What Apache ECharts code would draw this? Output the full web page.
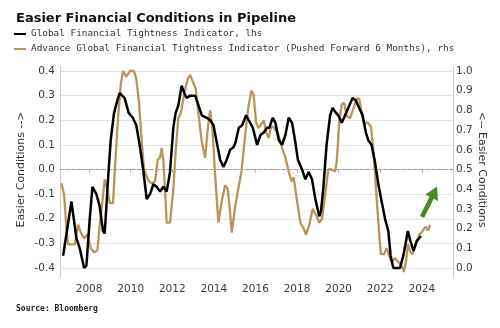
<!DOCTYPE html>
<html>
<head>
<meta charset="utf-8">
<script src="https://cdn.jsdelivr.net/npm/echarts@6/dist/echarts.min.js"></script>
<style>
  html, body { margin: 0; padding: 0; background: #ffffff; }
  #chart { width: 500px; height: 328px; }
</style>
</head>
<body>
<div id="chart"></div>
<script>
// Global Financial Tightness Indicator (left axis), dates as decimal years
const gftYears = [
  2006.75, 2007.15, 2007.39, 2007.55, 2007.76, 2007.87, 2008.03, 2008.16, 2008.35, 2008.51,
  2008.67, 2008.75, 2008.91, 2009.04, 2009.20, 2009.39, 2009.47, 2009.71, 2009.90, 2010.10,
  2010.27, 2010.43, 2010.60, 2010.77, 2010.93, 2011.09, 2011.25, 2011.41, 2011.57, 2011.73,
  2011.89, 2012.05, 2012.16, 2012.29, 2012.45, 2012.58, 2012.69, 2012.86, 2013.10, 2013.26,
  2013.42, 2013.66, 2013.82, 2013.98, 2014.14, 2014.30, 2014.46, 2014.62, 2014.78, 2014.94,
  2015.04, 2015.20, 2015.36, 2015.55, 2015.68, 2015.87, 2016.08, 2016.24, 2016.40, 2016.56,
  2016.67, 2016.83, 2016.96, 2017.12, 2017.28, 2017.44, 2017.60, 2017.76, 2017.92, 2018.04,
  2018.24, 2018.40, 2018.56, 2018.72, 2018.88, 2019.07, 2019.15, 2019.26, 2019.42, 2019.59,
  2019.71, 2019.87, 2019.98, 2020.15, 2020.26, 2020.46, 2020.67, 2020.83, 2020.99, 2021.15,
  2021.31, 2021.42, 2021.58, 2021.75, 2021.91, 2022.07, 2022.23, 2022.39, 2022.50, 2022.63,
  2022.79, 2022.95, 2023.11, 2023.20, 2023.33, 2023.45, 2023.60, 2023.76, 2023.96
];
const gftValues = [
  -0.35, -0.13, -0.28, -0.32, -0.40, -0.39, -0.20, -0.07, -0.10, -0.15,
  -0.25, -0.26, -0.04, 0.12, 0.23, 0.29, 0.31, 0.29, 0.23, 0.21,
  0.18, 0.10, 0.00, -0.12, -0.10, -0.06, -0.07, -0.09, -0.07, -0.09,
  -0.01, 0.17, 0.23, 0.26, 0.34, 0.31, 0.29, 0.30, 0.30, 0.26,
  0.22, 0.21, 0.20, 0.18, 0.11, 0.04, 0.01, 0.04, 0.08, 0.09,
  0.11, 0.17, 0.18, 0.22, 0.20, 0.17, 0.10, 0.14, 0.15, 0.17,
  0.17, 0.21, 0.19, 0.12, 0.10, 0.14, 0.21, 0.19, 0.11, 0.04,
  0.00, -0.04, -0.01, -0.04, -0.12, -0.19, -0.17, -0.08, 0.10, 0.22,
  0.25, 0.23, 0.22, 0.19, 0.21, 0.25, 0.29, 0.28, 0.25, 0.22,
  0.15, 0.12, 0.10, 0.03, -0.06, -0.13, -0.20, -0.25, -0.35, -0.40,
  -0.40, -0.40, -0.35, -0.31, -0.25, -0.29, -0.33, -0.29, -0.27
];

// Advance indicator, pushed forward 6 months (right axis)
const advYears = [
  2006.67, 2006.80, 2006.91, 2006.99, 2007.15, 2007.31, 2007.47, 2007.60, 2007.76, 2007.92,
  2008.08, 2008.24, 2008.40, 2008.51, 2008.63, 2008.75, 2008.88, 2008.99, 2009.15, 2009.26,
  2009.39, 2009.52, 2009.63, 2009.79, 2009.96, 2010.16, 2010.27, 2010.40, 2010.51, 2010.64,
  2010.75, 2010.87, 2011.01, 2011.17, 2011.30, 2011.41, 2011.49, 2011.57, 2011.65, 2011.73,
  2011.89, 2012.05, 2012.16, 2012.29, 2012.42, 2012.58, 2012.74, 2012.86, 2013.01, 2013.13,
  2013.26, 2013.42, 2013.58, 2013.71, 2013.82, 2013.93, 2014.06, 2014.22, 2014.38, 2014.54,
  2014.67, 2014.78, 2014.86, 2015.01, 2015.17, 2015.33, 2015.49, 2015.65, 2015.80, 2015.91,
  2016.03, 2016.15, 2016.28, 2016.40, 2016.51, 2016.63, 2016.76, 2016.92, 2017.12, 2017.28,
  2017.44, 2017.60, 2017.73, 2017.84, 2018.00, 2018.16, 2018.32, 2018.43, 2018.59, 2018.75,
  2018.91, 2019.07, 2019.20, 2019.35, 2019.50, 2019.67, 2019.83, 2019.91, 2020.03, 2020.15,
  2020.26, 2020.39, 2020.55, 2020.71, 2020.87, 2020.99, 2021.11, 2021.22, 2021.38, 2021.55,
  2021.68, 2021.80, 2021.91, 2022.03, 2022.18, 2022.31, 2022.44, 2022.55, 2022.71, 2022.87,
  2023.03, 2023.14, 2023.25, 2023.33, 2023.45, 2023.55, 2023.71, 2023.87, 2023.98, 2024.06,
  2024.19, 2024.30, 2024.40
];
const advValues = [
  0.43, 0.37, 0.20, 0.12, 0.12, 0.12, 0.22, 0.18, 0.15, 0.17,
  0.10, 0.08, 0.09, 0.22, 0.33, 0.45, 0.40, 0.33, 0.33, 0.54,
  0.76, 0.93, 1.00, 0.97, 1.00, 1.00, 0.96, 0.84, 0.67, 0.50,
  0.47, 0.44, 0.43, 0.44, 0.55, 0.56, 0.61, 0.55, 0.40, 0.23,
  0.23, 0.40, 0.59, 0.76, 0.79, 0.89, 0.96, 0.98, 0.94, 0.91,
  0.78, 0.64, 0.56, 0.71, 0.80, 0.71, 0.47, 0.23, 0.34, 0.42,
  0.40, 0.28, 0.18, 0.30, 0.40, 0.49, 0.66, 0.81, 0.90, 0.88,
  0.74, 0.71, 0.73, 0.75, 0.69, 0.66, 0.72, 0.71, 0.67, 0.61,
  0.56, 0.49, 0.44, 0.46, 0.34, 0.23, 0.20, 0.17, 0.22, 0.30,
  0.27, 0.23, 0.25, 0.37, 0.50, 0.50, 0.49, 0.54, 0.74, 0.83,
  0.84, 0.77, 0.76, 0.81, 0.86, 0.86, 0.79, 0.73, 0.74, 0.72,
  0.59, 0.40, 0.23, 0.07, 0.07, 0.10, 0.06, 0.03, 0.05, 0.03,
  0.01, -0.02, 0.04, 0.12, 0.08, 0.07, 0.12, 0.17, 0.18, 0.17,
  0.21, 0.19, 0.22
];

const yearTicks = [2008, 2010, 2012, 2014, 2016, 2018, 2020, 2022, 2024];

const zip = (xs, ys) => xs.map((x, i) => [x, ys[i]]);

const tickFont = { fontFamily: 'DejaVu Sans', fontSize: 10.5, color: '#3a3a3a' };
const axisGrey = '#c8c8c8';

const chart = echarts.init(document.getElementById('chart'), null, { renderer: 'canvas' });

chart.setOption({
  backgroundColor: '#ffffff',
  animation: false,
  title: {
    text: 'Easier Financial Conditions in Pipeline',
    left: 11,
    top: 7,
    textStyle: { fontFamily: 'DejaVu Sans', fontWeight: 'bold', fontSize: 13, color: '#111' }
  },
  legend: {
    orient: 'vertical',
    left: 14,
    top: 28,
    itemWidth: 12,
    itemHeight: 2,
    itemGap: 3,
    icon: 'rect',
    padding: 0,
    textStyle: { fontFamily: 'DejaVu Sans Mono', fontSize: 9.4, color: '#333', lineHeight: 12 },
    data: ['Global Financial Tightness Indicator, lhs',
           'Advance Global Financial Tightness Indicator (Pushed Forward 6 Months), rhs']
  },
  grid: { left: 60, right: 47, top: 71, bottom: 60 },
  xAxis: {
    type: 'value',
    min: 2006.6,
    max: 2025.5,
    offset: 8,
    splitLine: { show: false },
    axisLine: { show: true, lineStyle: { color: axisGrey } },
    axisTick: { show: true, customValues: yearTicks, length: 3, lineStyle: { color: '#b0b0b0' } },
    axisLabel: Object.assign({ customValues: yearTicks, margin: 8, formatter: v => String(v) }, tickFont)
  },
  yAxis: [
    {
      type: 'value',
      min: -0.4,
      max: 0.4,
      interval: 0.1,
      name: 'Easier Conditions -->',
      nameLocation: 'middle',
      nameRotate: 90,
      nameGap: 33,
      nameMoveOverlap: false,
      nameTextStyle: { fontFamily: 'DejaVu Sans', fontSize: 11, color: '#333' },
      axisLine: { show: true, lineStyle: { color: axisGrey } },
      axisTick: { show: false },
      axisLabel: Object.assign({ margin: 5, formatter: v => v.toFixed(1) }, tickFont),
      splitLine: { show: true, lineStyle: { color: '#e3e3e3', width: 1 } }
    },
    {
      type: 'value',
      min: 0,
      max: 1,
      interval: 0.1,
      position: 'right',
      name: '<-- Easier Conditions',
      nameLocation: 'middle',
      nameRotate: -90,
      nameGap: 23,
      nameMoveOverlap: false,
      nameTextStyle: { fontFamily: 'DejaVu Sans', fontSize: 11, color: '#333' },
      axisLine: { show: true, lineStyle: { color: axisGrey } },
      axisTick: { show: false },
      axisLabel: Object.assign({ margin: 3, formatter: v => v.toFixed(1) }, tickFont),
      splitLine: { show: false }
    }
  ],
  series: [
    {
      name: 'Advance Global Financial Tightness Indicator (Pushed Forward 6 Months), rhs',
      type: 'line',
      yAxisIndex: 1,
      data: zip(advYears, advValues),
      showSymbol: false,
      clip: false,
      z: 2,
      color: '#b8955f',
      lineStyle: { color: '#b8955f', width: 2.3 }
    },
    {
      name: 'Global Financial Tightness Indicator, lhs',
      type: 'line',
      yAxisIndex: 0,
      data: zip(gftYears, gftValues),
      showSymbol: false,
      clip: false,
      z: 3,
      color: '#000000',
      lineStyle: { color: '#000000', width: 2.5 },
      markLine: {
        silent: true,
        symbol: 'none',
        label: { show: false },
        lineStyle: { color: '#9a9a9a', type: [3, 3], width: 1 },
        data: [{ yAxis: 0 }],
        z: 1
      }
    }
  ],
  graphic: [
    // frame sides joining the value axes to the offset time axis
    { type: 'line', shape: { x1: 60.5, y1: 67, x2: 60.5, y2: 277 }, style: { stroke: axisGrey, lineWidth: 1 }, z: 0 },
    { type: 'line', shape: { x1: 453.5, y1: 67, x2: 453.5, y2: 277 }, style: { stroke: axisGrey, lineWidth: 1 }, z: 0 },
    {
      // green annotation arrow
      type: 'polygon',
      shape: {
        points: [[424.1, 218.0], [433.7, 198.7], [438.0, 200.9], [437.0, 186.5],
                 [425.4, 194.6], [429.5, 196.7], [419.9, 216.0]]
      },
      style: { fill: '#4b8a22' },
      z: 10
    },
    {
      type: 'text',
      left: 16,
      top: 305,
      style: {
        text: 'Source: Bloomberg',
        font: 'bold 8px "DejaVu Sans Mono"',
        fill: '#222'
      }
    }
  ]
});
</script>
</body>
</html>
